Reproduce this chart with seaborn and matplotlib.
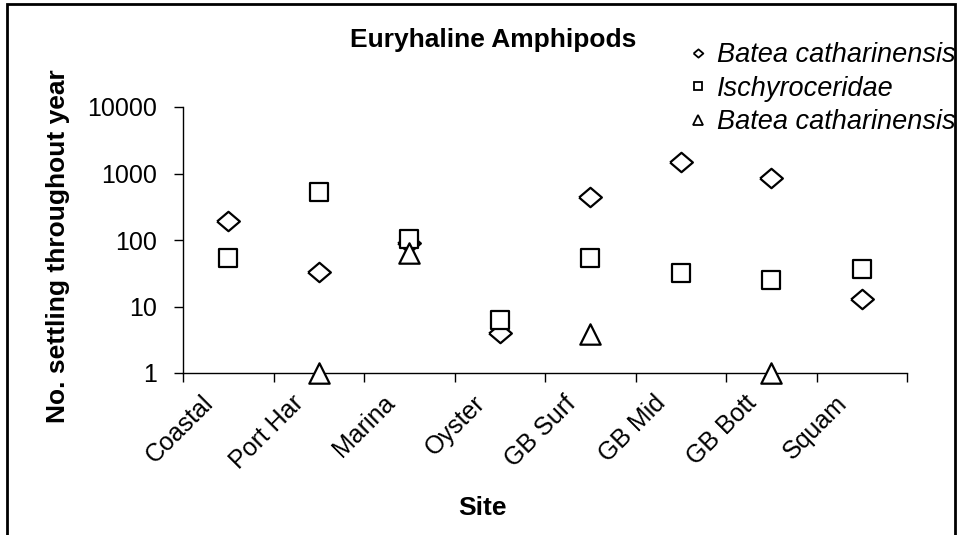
import numpy as np
import seaborn as sns
import matplotlib.pyplot as plt
import matplotlib.transforms as mtransforms
from matplotlib.lines import Line2D
from matplotlib.patches import Rectangle
from matplotlib.ticker import NullLocator

sites = ['Coastal', 'Port Har', 'Marina', 'Oyster', 'GB Surf', 'GB Mid', 'GB Bott', 'Squam']
batea = [190, 33, 90, 4, 450, 1500, 850, 13]
ischyro = [53, 530, 105, 6.3, 53, 32, 25, 37]
batea2 = [np.nan, 1, 63, np.nan, 3.8, np.nan, 1, np.nan]
series_names = ['Batea catharinensis', 'Ischyroceridae', 'Batea catharinensis']
yticks = [1, 10, 100, 1000, 10000]

# Excel-style diamond is a bit wider than tall
diamond = [(-1, 0), (0, 0.85), (1, 0), (0, -0.85), (-1, 0)]

sns.set_theme(style='white')
plt.rcParams['font.family'] = ['Liberation Sans', 'DejaVu Sans']
for key in ['text.color', 'axes.labelcolor', 'xtick.color', 'ytick.color']:
    plt.rcParams[key] = 'black'

fig, ax = plt.subplots(figsize=(9.57, 5.35), dpi=100)
fig.subplots_adjust(left=183/957, right=907/957, top=1-107/535, bottom=1-373/535)

x = np.arange(len(sites))
styles = [(diamond, 270), ('s', 175), ('^', 215)]
for vals, (m, s) in zip([batea, ischyro, batea2], styles):
    sns.scatterplot(x=x, y=vals, marker=m, s=s, color='white', edgecolor='black',
                    linewidth=1.6, ax=ax, legend=False, clip_on=False, zorder=3)

ax.set_yscale('log')
ax.set_ylim(1, 10000)
ax.set_yticks(yticks)
ax.set_yticklabels([str(v) for v in yticks])
ax.yaxis.set_minor_locator(NullLocator())
ax.tick_params(axis='y', which='major', length=6.5, width=1, color='black',
               direction='out', pad=12, labelsize=18, left=True)

ax.set_xlim(-0.5, len(sites) - 0.5)
ax.set_xticks(x)
ax.set_xticklabels(sites, rotation=45, ha='right', rotation_mode='anchor')
ax.set_xticks(np.arange(-0.5, len(sites)), minor=True)
ax.tick_params(axis='x', which='major', length=0, pad=13, labelsize=18)
ax.tick_params(axis='x', which='minor', length=6.5, width=1, color='black',
               direction='out', bottom=True)
shift = mtransforms.ScaledTranslation(-0.27, 0, fig.dpi_scale_trans)
for lab in ax.get_xticklabels():
    lab.set_transform(lab.get_transform() + shift)

for side in ['top', 'right']:
    ax.spines[side].set_visible(False)
for side in ['left', 'bottom']:
    ax.spines[side].set_color('black')
    ax.spines[side].set_linewidth(1)
ax.grid(False)

ax.set_xlabel('Site', fontsize=19, fontweight='bold')
ax.set_ylabel('No. settling throughout year', fontsize=19, fontweight='bold')
ax.xaxis.set_label_coords((482-183)/724, (373-508)/266)
ax.xaxis.label.set_va('center')
ax.yaxis.set_label_coords((58-183)/724, (373-246)/266)
ax.yaxis.label.set_va('center')

fig.text(493/957, 1-40/535, 'Euryhaline Amphipods', ha='center', va='center',
         fontsize=19, fontweight='bold')

handles = [
    Line2D([], [], marker=diamond, ls='none', ms=7, mfc='white', mec='black', mew=1.3),
    Line2D([], [], marker='s', ls='none', ms=5.5, mfc='white', mec='black', mew=1.3),
    Line2D([], [], marker='^', ls='none', ms=6.5, mfc='white', mec='black', mew=1.3),
]
fig.legend(handles, series_names, loc='upper left', bbox_to_anchor=(687/957, 1-42/535),
           frameon=False, prop={'size': 19.5, 'style': 'italic'}, handlelength=0.8,
           handletextpad=0.3, labelspacing=0.28, borderpad=0, borderaxespad=0)

fig.add_artist(Rectangle((7/957, -0.05), (955-7)/957, 1-4/535+0.05,
                         transform=fig.transFigure, fill=False, lw=2,
                         edgecolor='black', clip_on=False))

fig.savefig('out.png', dpi=100)
